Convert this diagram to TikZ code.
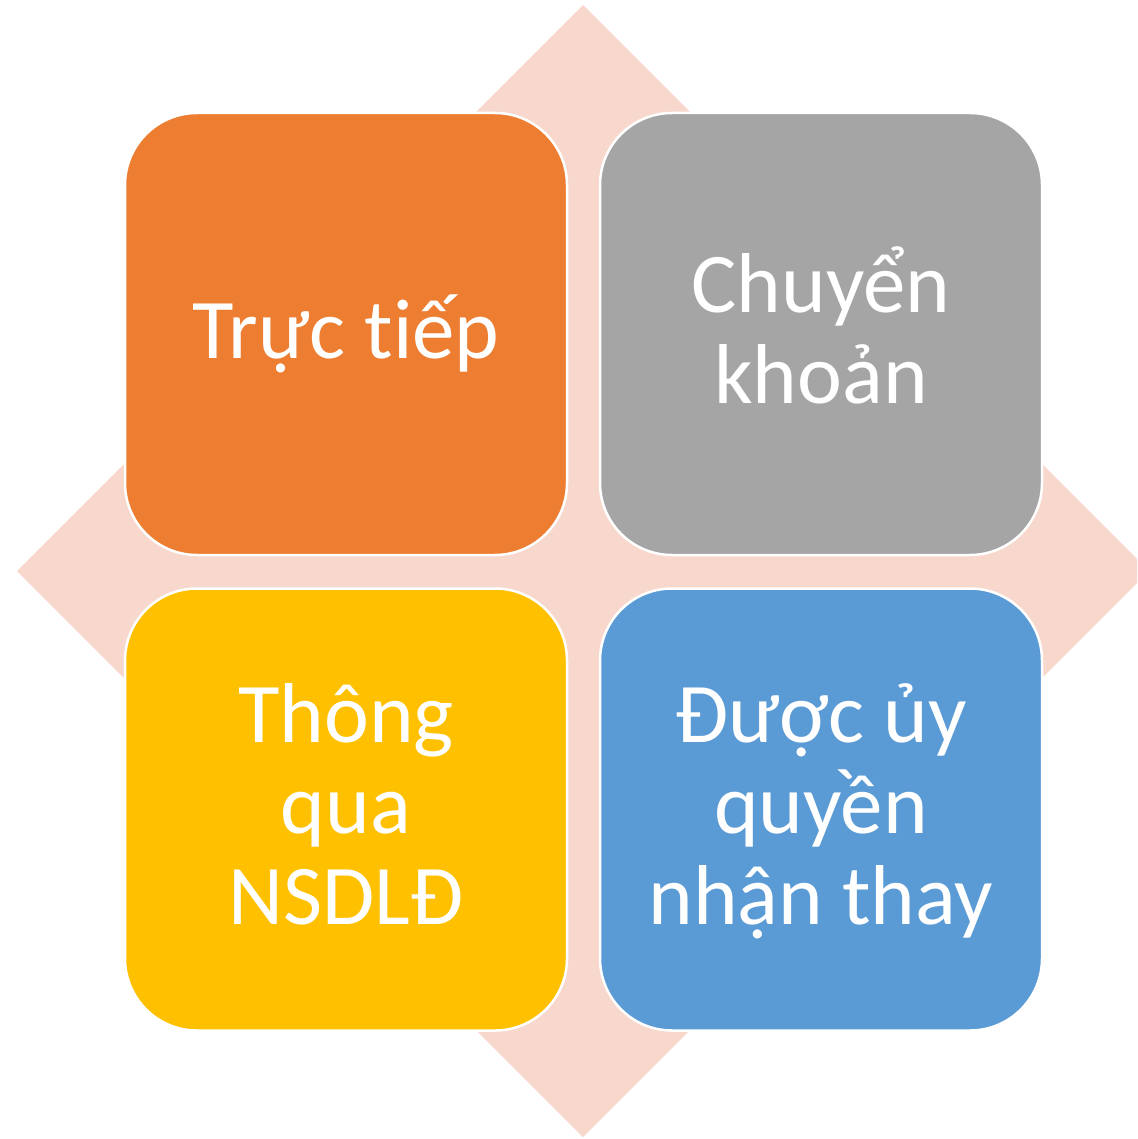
\documentclass[tikz,border=0pt]{standalone}
\usepackage{fontspec}
\setmainfont{Carlito}[Ligatures={NoCommon,NoRare,NoContextual}]
\definecolor{diam}{HTML}{F8D8CD}
\definecolor{cOrange}{HTML}{ED7D31}
\definecolor{cGray}{HTML}{A5A5A5}
\definecolor{cYellow}{HTML}{FFC000}
\definecolor{cBlue}{HTML}{5B9BD5}
\newcommand\lstrut{\rule[-18pt]{0pt}{84pt}}
\tikzset{
  tile/.style={rectangle, rounded corners=72pt, minimum width=442pt, minimum height=442pt,
    inner sep=0pt, draw=white, line width=2.5pt, text=white, align=center,
    font=\fontsize{85pt}{91pt}\selectfont},
  backdiamond/.style={fill=diam, draw=none}
}
\begin{document}
\begin{tikzpicture}[x=1pt,y=-1pt]
\useasboundingbox (0,0) rectangle (1137,1139);
\clip (0,0) rectangle (1137,1139);
\coordinate (dT) at (583,5);
\coordinate (dR) at (1149,571);
\coordinate (dB) at (583,1137);
\coordinate (dL) at (17,571);
\fill[backdiamond] (dT) -- (dR) -- (dB) -- (dL) -- cycle;
\node[tile, fill=cOrange] (tl) at (346,334) {\lstrut Trực tiếp};
\node[tile, fill=cGray] (tr) at (821,334) {\lstrut Chuyển\\\lstrut khoản};
\node[tile, fill=cYellow] (bl) at (346,809.5) {\lstrut Thông\\\lstrut qua\\\lstrut NSDLĐ};
\node[tile, fill=cBlue] (br) at (821,809.5) {\lstrut Được ủy\\\lstrut quyền\\\lstrut nhận thay};
\end{tikzpicture}
\end{document}
